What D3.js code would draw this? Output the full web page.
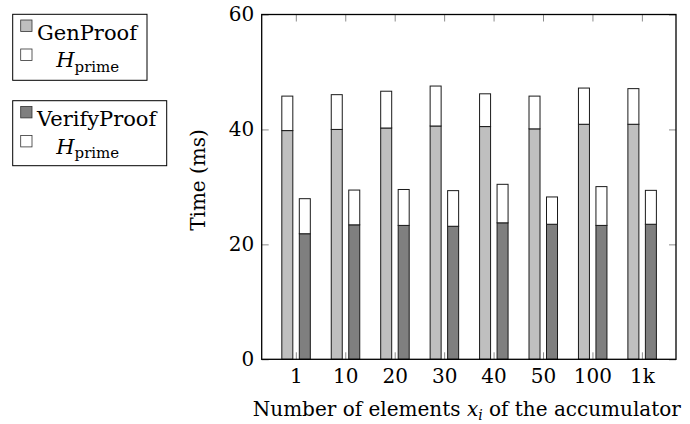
<!DOCTYPE html>
<html>
<head>
<meta charset="utf-8">
<script src="https://cdn.jsdelivr.net/npm/d3@7"></script>
<style>
  body { margin: 0; background: #fff; }
  svg text { font-family: 'DejaVu Serif', serif; fill: #000; }
</style>
</head>
<body>
<div id="chart"></div>
<script>
// values (ms)
const categories = ["1", "10", "20", "30", "40", "50", "100", "1k"];
const genProof = [39.8, 40.0, 40.25, 40.6, 40.5, 40.1, 40.9, 40.9];
const genPrime = [6.0, 6.05, 6.4, 6.95, 5.7, 5.7, 6.3, 6.2];
const verifyProof = [21.85, 23.4, 23.3, 23.15, 23.75, 23.5, 23.3, 23.5];
const verifyPrime = [6.1, 6.05, 6.25, 6.2, 6.7, 4.75, 6.75, 5.9];
const yTicks = [0, 20, 40, 60];

const W = 690, H = 424;
const plot = {left: 261.7, right: 676, top: 14.5, bottom: 359.3};
const fontSize = 20;

const svg = d3.select("#chart").append("svg")
  .attr("width", W).attr("height", H);

const x = d3.scalePoint().domain(categories)
  .range([plot.left, plot.right]).padding(0.69);
const y = d3.scaleLinear().domain([0, 60]).range([plot.bottom, plot.top]);
// two bars per category, shifted around the tick
const xs = d3.scaleBand().domain(["gen", "verify"])
  .range([-14, 14.5]).paddingInner(0.371);

const groups = [
  {key: "gen", base: genProof, prime: genPrime, fill: "#bfbfbf"},
  {key: "verify", base: verifyProof, prime: verifyPrime, fill: "#7f7f7f"}
];

// ticks, all pointing inwards, grey
const tickCol = "#8c8c8c";
function styleAxis(g) {
  g.select(".domain").remove();
  g.selectAll(".tick line").attr("stroke", tickCol).attr("stroke-width", 1);
  g.selectAll(".tick text").style("font-size", fontSize + "px");
}
svg.append("g").attr("transform", `translate(${plot.left},0)`)
  .call(d3.axisLeft(y).tickValues(yTicks).tickSize(-7).tickPadding(7.5))
  .call(styleAxis);
svg.append("g").attr("transform", `translate(${plot.right},0)`)
  .call(d3.axisRight(y).tickValues(yTicks).tickSize(-7).tickFormat(""))
  .call(styleAxis);
svg.append("g").attr("transform", `translate(0,${plot.bottom})`)
  .call(d3.axisBottom(x).tickSize(-7).tickPadding(10))
  .call(styleAxis);
svg.append("g").attr("transform", `translate(0,${plot.top})`)
  .call(d3.axisTop(x).tickSize(-7).tickFormat(""))
  .call(styleAxis);

// stacked bars
groups.forEach(gr => {
  const rows = categories.map((c, i) => ({cat: c, base: gr.base[i], prime: gr.prime[i]}));
  const stacked = d3.stack().keys(["base", "prime"])(rows);
  const g = svg.append("g").attr("class", "bars-" + gr.key);
  stacked.forEach(layer => {
    g.selectAll(null).data(layer).enter().append("rect")
      .attr("x", d => x(d.data.cat) + xs(gr.key))
      .attr("width", xs.bandwidth())
      .attr("y", d => y(d[1]))
      .attr("height", d => y(d[0]) - y(d[1]))
      .attr("fill", layer.key === "base" ? gr.fill : "#fff")
      .attr("stroke", "#1a1a1a")
      .attr("stroke-width", 1);
  });
});

// frame
svg.append("rect")
  .attr("x", plot.left).attr("y", plot.top)
  .attr("width", plot.right - plot.left).attr("height", plot.bottom - plot.top)
  .attr("fill", "none").attr("stroke", "#000").attr("stroke-width", 1.3);

// axis labels
svg.append("text")
  .attr("transform", "translate(204.5,180) rotate(-90)")
  .attr("text-anchor", "middle")
  .style("font-size", fontSize + "px")
  .text("Time (ms)");

const xl = svg.append("text")
  .attr("x", (plot.left + plot.right) / 2 - 2).attr("y", 416)
  .attr("text-anchor", "middle")
  .style("font-size", fontSize + "px");
xl.append("tspan").text("Number of elements ");
xl.append("tspan").style("font-style", "italic").text("x");
xl.append("tspan").style("font-style", "italic").style("font-size", "14px").attr("dy", 4).text("i");
xl.append("tspan").attr("dy", -4).text(" of the accumulator");

// legends
const legendSize = 21;
const legends = [
  {top: 14.3, w: 134.3, h: 66, label: "GenProof", fill: "#bfbfbf"},
  {top: 100.7, w: 154, h: 65, label: "VerifyProof", fill: "#7f7f7f"}
];
legends.forEach(lg => {
  const g = svg.append("g").attr("transform", `translate(12.7,${lg.top})`);
  g.append("rect").attr("width", lg.w).attr("height", lg.h)
    .attr("fill", "#fff").attr("stroke", "#000").attr("stroke-width", 1);
  g.append("rect").attr("x", 8).attr("y", 5.7).attr("width", 11.3).attr("height", 11.5)
    .attr("fill", lg.fill).attr("stroke", "#333").attr("stroke-width", 0.8);
  g.append("text").attr("x", 24.3).attr("y", 25.5)
    .style("font-size", legendSize + "px").text(lg.label);
  g.append("rect").attr("x", 8).attr("y", 34.7).attr("width", 11.3).attr("height", 11.5)
    .attr("fill", "#fff").attr("stroke", "#333").attr("stroke-width", 0.8);
  const t = g.append("text").attr("x", 43.5).attr("y", 53)
    .style("font-size", legendSize + "px");
  t.append("tspan").style("font-style", "italic").text("H");
  t.append("tspan").style("font-size", "15px").attr("dy", 4.4).text("prime");
});
</script>
</body>
</html>
